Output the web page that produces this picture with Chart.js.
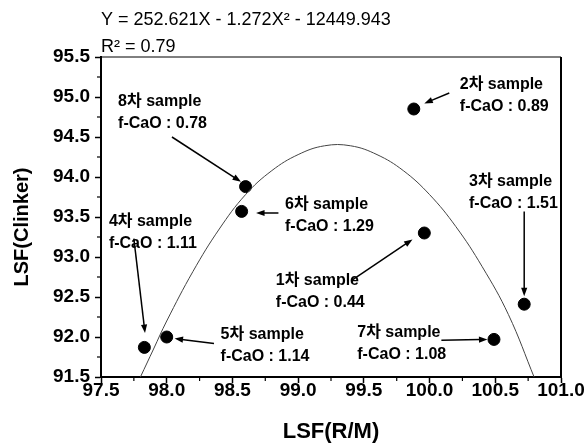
<!DOCTYPE html>
<html>
<head>
<meta charset="utf-8">
<script src="https://cdn.jsdelivr.net/npm/chart.js@4.4.1/dist/chart.umd.min.js"></script>
<style>
  html, body { margin: 0; padding: 0; background: #fff; }
</style>
</head>
<body>
<canvas id="lsfChart" width="588" height="443"></canvas>
<script>
// 샘플 데이터
const sampleNames = ["1차 sample", "2차 sample", "3차 sample", "4차 sample",
                     "5차 sample", "6차 sample", "7차 sample", "8차 sample"];
const lsfRM = [99.96, 99.88, 100.72, 97.83, 98.00, 98.57, 100.49, 98.60];
const lsfClinker = [93.30, 94.85, 92.41, 91.87, 92.00, 93.57, 91.97, 93.88];
const fCaO = ["0.44", "0.89", "1.51", "1.11", "1.14", "1.29", "1.08", "0.78"];

// 회귀 곡선 (그림에서 읽은 점)
const curveX = [97.80, 97.90, 98.00, 98.20, 98.40, 98.60, 98.80, 99.00, 99.20,
                99.40, 99.60, 99.80, 100.00, 100.20, 100.40, 100.60, 100.80];
const curveY = [91.50, 91.85, 92.20, 92.82, 93.35, 93.78, 94.08, 94.28, 94.39,
                94.39, 94.28, 94.08, 93.78, 93.38, 92.88, 92.28, 91.48];

const fitText = ["Y = 252.621X - 1.272X² - 12449.943", "R² = 0.79"];
const yTitle = "LSF(Clinker)";

// 주석 위치 (데이터 단위): 글자 시작점, 화살표 시작/끝
const notePos = [
  { tx: 98.83, ty: 92.70, from: [99.41, 92.71], to: [99.87, 93.22] },
  { tx: 100.23, ty: 95.15, from: [100.15, 95.05], to: [99.96, 94.92] },
  { tx: 100.30, ty: 93.94, from: [100.72, 93.57], to: [100.72, 92.51] },
  { tx: 97.56, ty: 93.44, from: [97.75, 93.23], to: [97.835, 92.05] },
  { tx: 98.41, ty: 92.03, from: [98.36, 91.92], to: [98.06, 91.98] },
  { tx: 98.90, ty: 93.65, from: [98.85, 93.55], to: [98.68, 93.55] },
  { tx: 99.45, ty: 92.06, from: [100.09, 91.96], to: [100.44, 91.97] },
  { tx: 97.63, ty: 94.94, from: [98.04, 94.50], to: [98.565, 93.94] },
];

const FONT = "'Liberation Sans', Arial, 'Noto Sans CJK KR', sans-serif";

function drawArrow(ctx, x1, y1, x2, y2) {
  const ang = Math.atan2(y2 - y1, x2 - x1);
  const head = 9;
  ctx.beginPath();
  ctx.moveTo(x1, y1);
  ctx.lineTo(x2 - Math.cos(ang) * head * 0.8, y2 - Math.sin(ang) * head * 0.8);
  ctx.stroke();
  ctx.beginPath();
  ctx.moveTo(x2, y2);
  ctx.lineTo(x2 - head * Math.cos(ang - 0.35), y2 - head * Math.sin(ang - 0.35));
  ctx.lineTo(x2 - head * Math.cos(ang + 0.35), y2 - head * Math.sin(ang + 0.35));
  ctx.closePath();
  ctx.fill();
}

const notesPlugin = {
  id: "notes",
  afterDatasetsDraw(chart) {
    const { ctx, chartArea: a } = chart;
    const x = chart.scales.x, y = chart.scales.y;
    ctx.save();
    ctx.strokeStyle = "#000";
    ctx.fillStyle = "#000";

    // 위/오른쪽 테두리
    ctx.lineWidth = 1;
    ctx.beginPath();
    ctx.moveTo(a.left, a.top);
    ctx.lineTo(a.right, a.top);
    ctx.stroke();
    ctx.lineWidth = 2;
    ctx.beginPath();
    ctx.moveTo(a.right, a.top);
    ctx.lineTo(a.right, a.bottom + 1);
    ctx.stroke();

    // 보조 눈금
    ctx.lineWidth = 1.2;
    for (let v = x.min + 0.25; v < x.max; v += 0.5) {
      const px = x.getPixelForValue(v);
      ctx.beginPath();
      ctx.moveTo(px, a.bottom);
      ctx.lineTo(px, a.bottom + 4);
      ctx.stroke();
    }
    for (let v = y.min + 0.25; v < y.max; v += 0.5) {
      const py = y.getPixelForValue(v);
      ctx.beginPath();
      ctx.moveTo(a.left, py);
      ctx.lineTo(a.left - 4, py);
      ctx.stroke();
    }

    // y축 제목 (원본처럼 조금 아래쪽)
    ctx.save();
    ctx.translate(22, (a.top + a.bottom) / 2 + 10);
    ctx.rotate(-Math.PI / 2);
    ctx.font = "bold 20px " + FONT;
    ctx.textAlign = "center";
    ctx.textBaseline = "middle";
    ctx.fillText(yTitle, 0, 0);
    ctx.restore();

    // 주석 글자와 화살표
    ctx.font = "bold 16px " + FONT;
    ctx.textAlign = "left";
    ctx.textBaseline = "middle";
    ctx.lineWidth = 1.5;
    notePos.forEach((n, i) => {
      const px = x.getPixelForValue(n.tx);
      const py = y.getPixelForValue(n.ty);
      ctx.fillText(sampleNames[i], px, py);
      ctx.fillText("f-CaO : " + fCaO[i], px, py + 22);
      drawArrow(ctx,
        x.getPixelForValue(n.from[0]), y.getPixelForValue(n.from[1]),
        x.getPixelForValue(n.to[0]), y.getPixelForValue(n.to[1]));
    });
    ctx.restore();
  }
};

new Chart(document.getElementById("lsfChart"), {
  type: "scatter",
  data: {
    datasets: [
      {
        type: "line",
        data: curveX.map((v, i) => ({ x: v, y: curveY[i] })),
        borderColor: "#444",
        borderWidth: 1,
        pointRadius: 0,
        tension: 0.4,
        fill: false,
      },
      {
        data: lsfRM.map((v, i) => ({ x: v, y: lsfClinker[i] })),
        backgroundColor: "#000",
        borderColor: "#000",
        pointRadius: 6,
      },
    ],
  },
  options: {
    responsive: false,
    animation: false,
    devicePixelRatio: 1,
    layout: { padding: { left: 0, right: 27, top: 0, bottom: 0 } },
    plugins: {
      legend: { display: false },
      tooltip: { enabled: false },
      title: {
        display: true,
        text: fitText,
        fullSize: false,
        align: "start",
        color: "#000",
        font: { family: FONT, size: 18, weight: "normal", lineHeight: 1.5 },
        padding: { top: 7, bottom: -4 },
      },
    },
    scales: {
      x: {
        type: "linear",
        min: 97.5,
        max: 101.0,
        afterFit: (s) => { s.height = 66; },
        border: { color: "#000", width: 2 },
        grid: { drawOnChartArea: false, tickLength: 6, tickWidth: 1.5, tickColor: "#000" },
        ticks: {
          stepSize: 0.5,
          color: "#000",
          padding: -2,
          font: { family: FONT, size: 19, weight: "bold", lineHeight: 1 },
          callback: (v) => v.toFixed(1),
        },
        title: {
          display: true,
          text: "LSF(R/M)",
          color: "#000",
          font: { family: FONT, size: 22, weight: "bold", lineHeight: 1 },
          padding: { top: 0, bottom: 0 },
        },
      },
      y: {
        type: "linear",
        min: 91.5,
        max: 95.5,
        afterFit: (s) => { s.width = 101; },
        border: { color: "#000", width: 2 },
        grid: { drawOnChartArea: false, tickLength: 6, tickWidth: 1.5, tickColor: "#000" },
        ticks: {
          stepSize: 0.5,
          color: "#000",
          padding: 5,
          font: { family: FONT, size: 19, weight: "bold" },
          callback: (v) => v.toFixed(1),
        },
        title: { display: false },
      },
    },
  },
  plugins: [notesPlugin],
});
</script>
</body>
</html>
